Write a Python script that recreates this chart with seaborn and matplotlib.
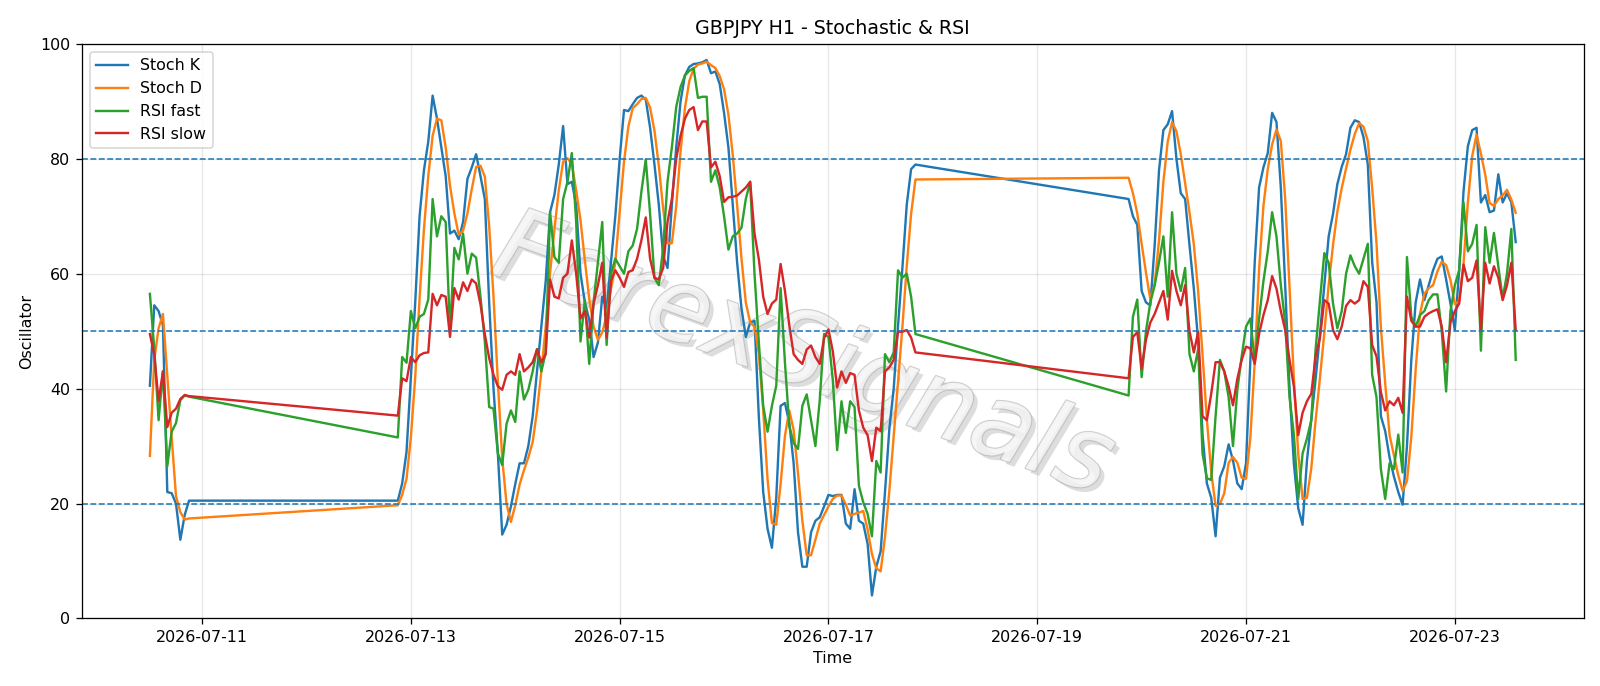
import numpy as np
import pandas as pd
import matplotlib
matplotlib.use("Agg")
import matplotlib.pyplot as plt
import matplotlib.dates as mdates
import matplotlib.patheffects as pe
import seaborn as sns

# ---- data: three trading sessions of hourly bars ----
seg_starts = ["2026-07-10 12:00", "2026-07-12 21:00", "2026-07-19 21:00"]

stoch_k_1 = [40.5, 54.5, 53.5, 51, 22, 21.8, 20, 13.7, 18, 20.5]
stoch_d_1 = [28.3, 45, 50.5, 53, 42.2, 31.6, 21.3, 18.5, 17.2, 17.4]
rsi_fast_1 = [56.5, 47, 34.5, 43, 26.5, 32.5, 34, 38, 38.8, 38.6]
rsi_slow_1 = [49.5, 46, 37.8, 43, 33.3, 35.8, 36.5, 38.2, 38.9, 38.7]

stoch_k_2 = [20.5, 23.5, 29, 42, 55, 70, 78, 83, 91, 87,
             82, 77, 67, 67.5, 66, 69, 76.5, 78.5, 80.8, 77,
             73, 55, 40, 28.7, 14.6, 16.3, 19.5, 23.4, 27, 27,
             30, 35.2, 43, 50.8, 58.7, 70.7, 73.7, 79, 85.7, 75.6,
             76, 72, 60, 55, 52, 45.5, 48, 56, 54, 62,
             70, 80, 88.5, 88.3, 89.5, 90.6, 91, 90.3, 85.4, 79,
             72, 63, 61, 72, 82, 90, 94.5, 96, 96.5, 96.6,
             96.8, 97.2, 94.9, 95.2, 93, 88, 82, 72, 62, 54,
             49, 51.5, 51.8, 35, 22, 15.6, 12.3, 21, 37, 37.5,
             34, 27, 15, 9, 9, 15, 17, 17.6, 19.5, 21.5,
             21.3, 21.5, 21.5, 16.5, 15.6, 22.5, 17, 16.5, 13, 4,
             9, 11.7, 22, 33, 40, 51, 61, 72, 78.2, 79]
stoch_d_2 = [19.7, 21.5, 24.3, 31.5, 42, 55.7, 67.7, 77, 84, 87,
             86.7, 82, 75.3, 70.5, 66.8, 67.5, 70.5, 74.7, 78.6, 78.8,
             76.9, 68.3, 56, 41.2, 27.8, 19.9, 16.8, 19.7, 23.3, 25.8,
             28, 30.7, 36.1, 43, 50.8, 60.1, 67.7, 74.5, 79.5, 80.1,
             79.1, 74.5, 69.3, 62.3, 55.7, 50.8, 48.5, 49.8, 52.7, 57.3,
             62, 70.7, 79.5, 85.6, 88.8, 89.5, 90.4, 90.6, 88.9, 84.9,
             78.8, 71.3, 65.3, 65.3, 71.7, 81.3, 88.8, 93.5, 95.7, 96.4,
             96.6, 96.9, 96.3, 95.8, 94.4, 92.1, 87.7, 80.7, 72, 62.7,
             55, 51.5, 50.8, 46.1, 36.3, 24.2, 16.6, 16.3, 23.4, 31.8,
             36.2, 32.8, 25.3, 17, 11, 11, 13.7, 16.5, 18, 19.5,
             20.8, 21.4, 21.4, 19.8, 17.9, 18.2, 18.4, 18.7, 15.5, 11.2,
             8.7, 8.2, 14.2, 22.2, 31.7, 41.3, 50.7, 61.3, 70.4, 76.4]
rsi_fast_2 = [31.5, 45.5, 44.5, 53.5, 50.5, 52.5, 53, 55.5, 73, 66.5,
              70, 69, 50, 64.5, 62.5, 67, 60, 63.5, 62.8, 56,
              48.2, 36.8, 36.5, 28.7, 26.7, 33.9, 36.2, 34.2, 43, 38.1,
              39.8, 43, 46.9, 43, 46.3, 70.7, 62.9, 61.9, 73, 76,
              81, 69, 48.2, 55.4, 44.3, 55, 62, 69, 47.6, 60,
              62.6, 61.3, 60, 63.9, 64.9, 67.8, 74.3, 79.9, 70.4, 59.3,
              58, 64.5, 76, 82, 89, 92.5, 94.5, 95.3, 95.8, 90.6,
              90.8, 90.8, 76, 78, 75, 70, 64.2, 66.5, 67, 68,
              73, 76, 60, 48, 37, 32.5, 37, 40.5, 57.5, 44.5,
              33.5, 30.5, 29.5, 37, 39, 34.5, 30, 38, 49.5, 49,
              41.5, 29.3, 37.8, 32.3, 37.8, 36.8, 23.1, 20.2, 18.2, 14.3,
              27.4, 25.4, 46, 44.6, 46.3, 60.6, 59.3, 60, 56, 49.5]
rsi_slow_2 = [35.3, 41.8, 41.3, 45.5, 44.6, 45.8, 46.2, 46.3, 56.5, 54.5,
              56.3, 56, 49, 57.5, 55.5, 58.5, 57, 59, 58.3, 54.7,
              49.5, 45.3, 42.4, 40.4, 39.8, 42.4, 43, 42.4, 46, 43,
              43.7, 44.6, 46.8, 44.6, 46, 59, 56, 55.7, 59.3, 60,
              65.8, 60, 52.2, 53.5, 48.9, 54.8, 58, 61.9, 48.9, 58.7,
              60.6, 59.3, 57.7, 60.3, 60.6, 62.6, 65.8, 69.8, 62.6, 59.3,
              59, 61, 69, 73, 80, 84, 87, 88.5, 89, 85,
              86.5, 86.5, 78.5, 79.5, 77, 72.5, 73.3, 73.4, 73.6, 74.3,
              75, 76, 67, 62.5, 56, 53, 54.8, 55.5, 61.7, 57,
              51, 46, 45, 44.3, 46.8, 47.5, 45.5, 44.3, 48.8, 50.3,
              46.5, 40.2, 43, 41, 42.7, 42.4, 36.2, 33.2, 31.9, 27.4,
              33.2, 32.6, 43, 43.7, 45, 49.9, 49.9, 50.2, 48.9, 46.3]

stoch_k_3 = [73, 70, 68.5, 57, 55, 54.5, 65, 78, 85, 86,
             88.3, 80, 74, 73, 65, 57.4, 48.2, 32, 23.5, 21,
             14.3, 24.5, 26.5, 30.3, 27.5, 23.5, 22.5, 27, 45, 62,
             75, 78.5, 81, 88, 86.4, 75, 58, 40, 27, 19.2,
             16.3, 27.4, 34.5, 41.7, 49.5, 58, 66.5, 70.4, 75.6, 78.6,
             80.8, 85.4, 86.7, 86.4, 83.8, 79, 62, 55, 35.2, 32.6,
             28, 24.7, 22, 19.8, 30, 45, 55, 59, 55.4, 58,
             60.6, 62.6, 63, 59, 54.8, 50.2, 60.6, 74.3, 82.2, 85,
             85.4, 72.4, 73.7, 70.7, 71, 77.3, 72.4, 74, 72.4, 65.5]
stoch_d_3 = [76.7, 74, 70.5, 65.2, 60.2, 55.5, 58.2, 65.8, 76, 83,
             86.4, 84.8, 80.8, 75.7, 70.7, 65.1, 56.9, 45.9, 34.6, 25.5,
             19.6, 19.9, 21.8, 27.1, 28.1, 27.1, 24.5, 24.3, 31.5, 44.7,
             60.7, 71.8, 78.2, 82.5, 85.1, 83.1, 73.1, 57.7, 41.7, 28.7,
             20.8, 21, 26.1, 34.5, 41.9, 49.7, 58, 65, 70.8, 74.9,
             78.3, 81.6, 84.3, 86.2, 85.6, 83.1, 74.9, 65.3, 50.7, 40.9,
             31.9, 28.4, 24.9, 22.2, 23.9, 31.6, 43.3, 53, 56.5, 57.5,
             58, 60.4, 62.1, 61.5, 58.9, 54.7, 55.2, 61.7, 72.4, 80.5,
             84.2, 80.9, 77.2, 72.3, 71.8, 73, 73.6, 74.6, 72.9, 70.6]
rsi_fast_3 = [38.8, 52.5, 55.5, 42, 50, 55, 58, 62, 66.5, 56,
              70.7, 60, 57, 61, 46, 43, 46.9, 28.7, 24.4, 24.1,
              35.2, 45, 43, 38.5, 30, 39.8, 45.6, 50.8, 52.2, 44.6,
              52.2, 58.7, 63.9, 70.7, 66.5, 58, 51.5, 38.5, 32, 20.8,
              28.7, 31.3, 34.5, 46.9, 55.4, 63.6, 61.9, 54.8, 50.5, 53.5,
              60, 63.2, 61.3, 60, 62.6, 65.2, 42.4, 38.5, 26, 20.8,
              27, 26, 32, 25.4, 62.9, 52.5, 50.8, 52.8, 53.5, 55.4,
              56.4, 56.4, 50, 39.5, 53.5, 58, 60.6, 72.4, 63.9, 65.2,
              68.5, 46.6, 68.1, 61.9, 67.1, 61.3, 55.7, 60, 67.8, 45]
rsi_slow_3 = [41.8, 49, 49.8, 43.5, 48.5, 51.5, 53, 55, 57, 52,
              60.5, 57, 54.5, 58, 50, 46.3, 49.9, 35.2, 34.5, 39.1,
              44.6, 44.6, 43, 40.4, 37.1, 41.7, 45, 47.3, 47, 44.3,
              49.5, 52.8, 55.4, 59.6, 57.4, 53.5, 50.2, 45, 40.4, 31.9,
              35.8, 37.8, 39.1, 45.6, 48.9, 55.4, 54.8, 50.2, 48.6, 50.8,
              54.4, 55.4, 54.8, 55.4, 58.7, 57.7, 47.6, 45.6, 39.4, 36.2,
              37.8, 37.1, 38.4, 35.8, 56, 51.8, 50.8, 50.8, 52.5, 53.1,
              53.5, 53.8, 50.8, 44.6, 51.5, 53.5, 54.8, 61.6, 58.7, 59.3,
              62.3, 50.2, 61.9, 58.3, 61.3, 59.3, 55.4, 58, 61.9, 50.2]

levels = [80, 50, 20]
series_names = ["Stoch K", "Stoch D", "RSI fast", "RSI slow"]
series_colors = ["#1f77b4", "#ff7f0e", "#2ca02c", "#d62728"]

# ---- assemble ----
segments = [
    (stoch_k_1, stoch_d_1, rsi_fast_1, rsi_slow_1),
    (stoch_k_2, stoch_d_2, rsi_fast_2, rsi_slow_2),
    (stoch_k_3, stoch_d_3, rsi_fast_3, rsi_slow_3),
]
times = []
cols = {n: [] for n in series_names}
for start, seg in zip(seg_starts, segments):
    idx = pd.date_range(start, periods=len(seg[0]), freq="h")
    times.extend(idx)
    for n, vals in zip(series_names, seg):
        cols[n].extend(vals)
df = pd.DataFrame({"Time": times, **cols})

# ---- plot ----
DPI = 114.29
fig = plt.figure(figsize=(1600 / DPI, 686 / DPI), dpi=DPI)
ax = fig.add_axes([0.051, 0.0985, 0.939, 0.8375])

for n, c in zip(series_names, series_colors):
    sns.lineplot(data=df, x="Time", y=n, ax=ax, color=c, label=n,
                 linewidth=1.5, estimator=None, sort=True)

for lv in levels:
    ax.axhline(lv, color="#1f77b4", linestyle="--", linewidth=1.0)

ax.set_ylim(0, 100)
ax.set_title("GBPJPY H1 - Stochastic & RSI")
ax.set_xlabel("Time")
ax.set_ylabel("Oscillator")
ax.grid(True, alpha=0.3)
ax.xaxis.set_major_locator(mdates.DayLocator(bymonthday=range(1, 32, 2)))
ax.xaxis.set_major_formatter(mdates.DateFormatter("%Y-%m-%d"))
ax.legend(loc="upper left")

# watermark
ax.text(0.48, 0.455, "ForexSignals", transform=ax.transAxes, fontsize=64,
        color="#f6f6f6", rotation=-20, ha="center", va="center",
        style="italic", alpha=0.8, zorder=0.5,
        path_effects=[pe.withStroke(linewidth=1.6, foreground="#c4c4c4"),
                      pe.withSimplePatchShadow(offset=(3, -3), shadow_rgbFace="#b5b5b5", alpha=0.45)])

fig.savefig("out.png", dpi=DPI)
